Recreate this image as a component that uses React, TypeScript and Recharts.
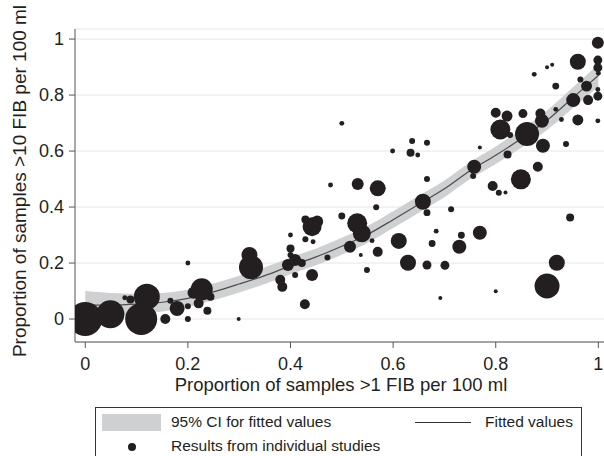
import {
  ComposedChart,
  Area,
  Line,
  Scatter,
  XAxis,
  YAxis,
  ZAxis,
  CartesianGrid,
} from "recharts";

// fitted curve and 95% CI
const fitX = [0, 0.05, 0.1, 0.15, 0.2, 0.25, 0.3, 0.35, 0.4, 0.45, 0.5, 0.55, 0.6, 0.65, 0.7, 0.75, 0.8, 0.85, 0.9, 0.95, 1];
const fitY = [0.05, 0.05, 0.053, 0.06, 0.074, 0.097, 0.125, 0.155, 0.19, 0.222, 0.26, 0.302, 0.355, 0.41, 0.465, 0.53, 0.585, 0.645, 0.71, 0.79, 0.87];
const ciLow = [0.0, 0.007, 0.016, 0.027, 0.043, 0.067, 0.095, 0.125, 0.16, 0.192, 0.23, 0.272, 0.325, 0.38, 0.435, 0.5, 0.554, 0.612, 0.675, 0.753, 0.83];
const ciHigh = [0.1, 0.093, 0.09, 0.093, 0.105, 0.127, 0.155, 0.185, 0.22, 0.252, 0.29, 0.332, 0.385, 0.44, 0.495, 0.56, 0.616, 0.678, 0.745, 0.827, 0.91];

// individual studies: x, y and study weight
const studyX = [
  0.0, 0.049, 0.109, 0.12, 0.077, 0.088, 0.156, 0.179, 0.166, 0.2, 0.2, 0.2, 0.221, 0.238, 0.227, 0.211, 0.244, 0.299,
  0.323, 0.32, 0.4, 0.4, 0.429, 0.442, 0.452, 0.429, 0.444, 0.472, 0.395, 0.409, 0.422, 0.4, 0.409, 0.38, 0.384, 0.442,
  0.428, 0.478, 0.531, 0.57, 0.567, 0.5, 0.53, 0.539, 0.516, 0.559, 0.537, 0.57, 0.549, 0.611, 0.629, 0.658, 0.666,
  0.713, 0.684, 0.676, 0.733, 0.729, 0.769, 0.666, 0.701, 0.692, 0.8, 0.9, 0.919, 0.945, 0.666, 0.637, 0.666, 0.634,
  0.648, 0.758, 0.756, 0.769, 0.794, 0.806, 0.819, 0.849, 0.882, 0.823, 0.892, 0.937, 0.809, 0.8, 0.822, 0.828, 0.853,
  0.861, 0.887, 0.89, 0.917, 0.928, 0.96, 0.999, 0.951, 0.98, 0.999, 0.999, 0.977, 0.965, 0.917, 0.875, 0.9, 0.91, 0.96,
  0.999, 0.999, 1.0, 0.999, 0.5, 0.599,
];
const studyY = [
  0.0, 0.017, 0.0, 0.08, 0.076, 0.07, 0.0, 0.038, 0.065, 0.0, 0.046, 0.2, 0.056, 0.03, 0.106, 0.094, 0.08, 0.0,
  0.185, 0.229, 0.3, 0.252, 0.356, 0.33, 0.348, 0.285, 0.276, 0.22, 0.193, 0.211, 0.2, 0.229, 0.157, 0.14, 0.115, 0.157,
  0.053, 0.479, 0.482, 0.467, 0.399, 0.368, 0.342, 0.306, 0.258, 0.28, 0.229, 0.24, 0.175, 0.279, 0.201, 0.419, 0.38,
  0.392, 0.314, 0.27, 0.299, 0.258, 0.308, 0.193, 0.192, 0.075, 0.099, 0.118, 0.201, 0.363, 0.5, 0.636, 0.63, 0.594,
  0.586, 0.544, 0.511, 0.613, 0.475, 0.451, 0.452, 0.499, 0.544, 0.588, 0.619, 0.625, 0.677, 0.737, 0.725, 0.657, 0.734,
  0.661, 0.734, 0.708, 0.749, 0.713, 0.711, 0.708, 0.782, 0.782, 0.796, 0.82, 0.832, 0.856, 0.832, 0.874, 0.899, 0.908, 0.919,
  0.925, 0.898, 0.878, 0.987, 0.699, 0.6,
];
const studyW = [
  289, 196, 256, 169, 6, 16, 25, 56, 9, 9, 9, 6, 25, 16, 121, 36, 16, 4,
  144, 64, 6, 16, 16, 90, 36, 9, 6, 9, 36, 36, 16, 9, 9, 25, 25, 36,
  25, 6, 36, 64, 9, 12, 100, 81, 36, 6, 4, 25, 9, 64, 64, 64, 12,
  9, 6, 12, 12, 49, 49, 20, 20, 4, 4, 156, 64, 16, 9, 9, 9, 16,
  6, 49, 9, 4, 25, 9, 4, 100, 25, 16, 49, 9, 100, 25, 30, 9, 20,
  144, 25, 49, 6, 6, 30, 6, 49, 25, 20, 6, 30, 9, 12, 6, 4, 4, 64,
  20, 20, 6, 36, 6, 6,
];

const xTicks = [0, 0.2, 0.4, 0.6, 0.8, 1];
const yTicks = [0, 0.2, 0.4, 0.6, 0.8, 1];

const fitRows = fitX.map((x, i) => ({ x, fit: fitY[i], ci: [ciLow[i], ciHigh[i]] }));
const studies = studyX.map((x, i) => ({ x, y: studyY[i], z: studyW[i] }));

const FONT = '"Liberation Sans", Arial, Helvetica, sans-serif';
const INK = "#231f20";

export default function App() {
  return (
    <div
      style={{
        position: "absolute",
        left: 0,
        top: 0,
        width: 604,
        height: 456,
        overflow: "hidden",
        background: "#fff",
        fontFamily: FONT,
        color: INK,
      }}
    >
      <ComposedChart
        width={604}
        height={400}
        data={fitRows}
        margin={{ top: 29, right: 0, left: 0, bottom: 0 }}
      >
        <CartesianGrid vertical={false} stroke="#e6e6e6" strokeWidth={1} />
        <XAxis
          type="number"
          dataKey="x"
          domain={[-0.02, 1.011]}
          ticks={xTicks}
          allowDataOverflow
          height={58}
          axisLine={{ stroke: "#555" }}
          tickLine={{ stroke: "#555" }}
          tickSize={6}
          tickMargin={9}
          tick={{ fill: INK, fontSize: 18, fontFamily: FONT }}
        />
        <YAxis
          type="number"
          domain={[-0.082, 1.036]}
          ticks={yTicks}
          allowDataOverflow
          width={75}
          axisLine={{ stroke: "#555" }}
          tickLine={{ stroke: "#555" }}
          tickSize={6}
          tickMargin={5}
          tick={{ fill: INK, fontSize: 18, fontFamily: FONT }}
        />
        <ZAxis type="number" dataKey="z" domain={[0, 300]} range={[0, 942]} />
        <Area
          type="monotone"
          dataKey="ci"
          stroke="none"
          fill="#cfd0d2"
          fillOpacity={1}
          isAnimationActive={false}
        />
        <Line
          type="monotone"
          dataKey="fit"
          stroke="#4d4d4d"
          strokeWidth={1.2}
          dot={false}
          activeDot={false}
          isAnimationActive={false}
        />
        <Scatter data={studies} dataKey="y" fill={INK} isAnimationActive={false} />
      </ComposedChart>

      <div
        style={{
          position: "absolute",
          left: 0,
          width: 604,
          top: 374,
          textAlign: "center",
          fontSize: 18.5,
          paddingLeft: 78,
          boxSizing: "border-box",
        }}
      >
        Proportion of samples &gt;1 FIB per 100 ml
      </div>
      <div
        style={{
          position: "absolute",
          left: 20 - 200,
          top: 181 - 11,
          width: 400,
          height: 22,
          lineHeight: "22px",
          textAlign: "center",
          fontSize: 19,
          transform: "rotate(-90deg)",
          whiteSpace: "nowrap",
        }}
      >
        Proportion of samples &gt;10 FIB per 100 ml
      </div>

      <div
        style={{
          position: "absolute",
          left: 95,
          top: 407,
          width: 487,
          height: 70,
          border: "1px solid #333",
          boxSizing: "border-box",
          fontSize: 15.5,
        }}
      >
        <div style={{ position: "absolute", left: 6, top: 6, width: 59, height: 17, background: "#cfd0d2" }} />
        <div style={{ position: "absolute", left: 75, top: 5, lineHeight: "18px" }}>95% CI for fitted values</div>
        <div style={{ position: "absolute", left: 319, top: 14, width: 56, height: 1, background: "#333" }} />
        <div style={{ position: "absolute", left: 389, top: 5, lineHeight: "18px" }}>Fitted values</div>
        <div
          style={{
            position: "absolute",
            left: 32,
            top: 35,
            width: 8,
            height: 8,
            borderRadius: 4,
            background: INK,
          }}
        />
        <div style={{ position: "absolute", left: 75, top: 29, lineHeight: "18px" }}>
          Results from individual studies
        </div>
      </div>
    </div>
  );
}
